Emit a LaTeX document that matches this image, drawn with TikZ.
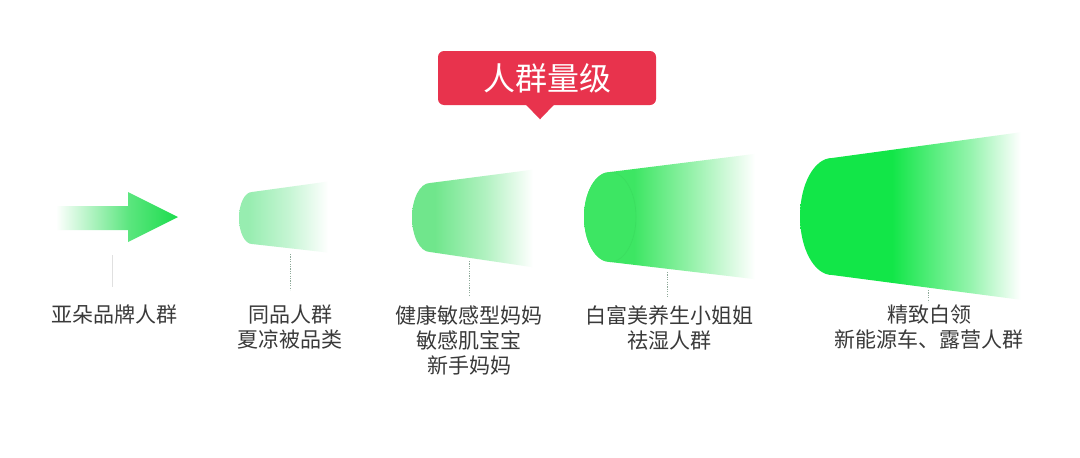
\documentclass[tikz,border=0pt]{standalone}
\usepackage{fontspec}
\newfontfamily\cjk{Noto Sans CJK SC}
\usetikzlibrary{calc}
\definecolor{gA}{HTML}{97EDB0}
\definecolor{gB}{HTML}{70E68C}
\definecolor{gC}{HTML}{3DE663}
\definecolor{gD}{HTML}{12E648}
\definecolor{gArr}{HTML}{1CDC4D}
\definecolor{titlered}{HTML}{E8334D}
\definecolor{labelgray}{HTML}{3A3A3A}
\definecolor{leadgray}{HTML}{8FAA9A}
\pgfdeclarehorizontalshading{fadeA}{100bp}{color(0bp)=(gA); color(30bp)=(gA); color(52bp)=(gA!55!white); color(73bp)=(white); color(100bp)=(white)}
\pgfdeclarehorizontalshading{fadeB}{100bp}{color(0bp)=(gB); color(34bp)=(gB); color(54bp)=(gB!55!white); color(73bp)=(white); color(100bp)=(white)}
\pgfdeclarehorizontalshading{fadeC}{100bp}{color(0bp)=(gC); color(39bp)=(gC); color(55bp)=(gC!55!white); color(73bp)=(white); color(100bp)=(white)}
\pgfdeclarehorizontalshading{fadeD}{100bp}{color(0bp)=(gD); color(45bp)=(gD); color(62bp)=(gD!45!white); color(73bp)=(white); color(100bp)=(white)}
\pgfdeclarehorizontalshading{fadeArr}{100bp}{color(0bp)=(white); color(28bp)=(white); color(56bp)=(gArr!72!white); color(75bp)=(gArr); color(100bp)=(gArr)}
\tikzset{
  titlebox/.style={fill=titlered, rounded corners=4.5pt, minimum width=163.5pt, minimum height=40.5pt, inner sep=0pt, text=white, font=\cjk\fontsize{24pt}{28pt}\selectfont},
  grouplabel/.style={anchor=north, align=center, inner sep=0pt, text=labelgray, font=\cjk\fontsize{15.75pt}{18.75pt}\selectfont},
  leader/.style={draw=leadgray, line width=0.6pt, dash pattern=on 0.9pt off 0.9pt},
  leaderlight/.style={draw=black!12, line width=0.6pt}
}
\begin{document}
\begin{tikzpicture}[x=0.75pt, y=-0.75pt]
\useasboundingbox (0,0) rectangle (1080,457);
\fill[white] (0,0) rectangle (1080,457);

% title
\node[titlebox] (title) at (547,78) {人群量级};
\fill[titlered] ($(title.south)+(-21,-0.5)$) -- ($(title.south)+(-7,14)$) -- ($(title.south)+(7,-0.5)$) -- cycle;

% arrow
\path[shading=fadeArr] (48,206) -- (128,206) -- (128,192) -- (178,217) -- (128,242) -- (128,230) -- (48,230) -- cycle;

% cones
\path[shading=fadeA] (252,192) arc[start angle=270, end angle=90, x radius=13, y radius=26] -- (332,253) -- (332,181) -- cycle;
\path[shading=fadeB] (430,183) arc[start angle=270, end angle=90, x radius=18, y radius=34.5] -- (538,268) -- (538,169) -- cycle;
\path[shading=fadeC] (610,172) arc[start angle=270, end angle=90, x radius=26, y radius=45] -- (762,280) -- (762,153) -- cycle;
\fill[gC] (610,217) ellipse[x radius=26, y radius=45];
\draw[gC!80!black, draw opacity=0.18, line width=0.5pt] (610,172) arc[start angle=270, end angle=450, x radius=26, y radius=45];
\path[shading=fadeD] (832,158) arc[start angle=270, end angle=90, x radius=32, y radius=58.5] -- (1030,301) -- (1030,131) -- cycle;

% labels
\node[grouplabel] (l0) at (114,305) {亚朵品牌人群};
\node[grouplabel] (l1) at (290,305) {同品人群\\夏凉被品类};
\node[grouplabel] (l2) at (469,305) {健康敏感型妈妈\\敏感肌宝宝\\新手妈妈};
\node[grouplabel] (l3) at (669,305) {白富美养生小姐姐\\祛湿人群};
\node[grouplabel] (l4) at (929,305) {精致白领\\新能源车、露营人群};

% leader lines
\coordinate (a0) at (112,255); \coordinate (b0) at (112,287);
\coordinate (a1) at (290,254); \coordinate (b1) at (290,290);
\coordinate (a2) at (469,261); \coordinate (b2) at (469,296);
\coordinate (a3) at (667,272); \coordinate (b3) at (667,297);
\coordinate (a4) at (928,290); \coordinate (b4) at (928,302);
\draw[leaderlight] (a0) -- (b0);
\draw[leader] (a1) -- (b1);
\draw[leader] (a2) -- (b2);
\draw[leader] (a3) -- (b3);
\draw[leader] (a4) -- (b4);
\end{tikzpicture}
\end{document}
